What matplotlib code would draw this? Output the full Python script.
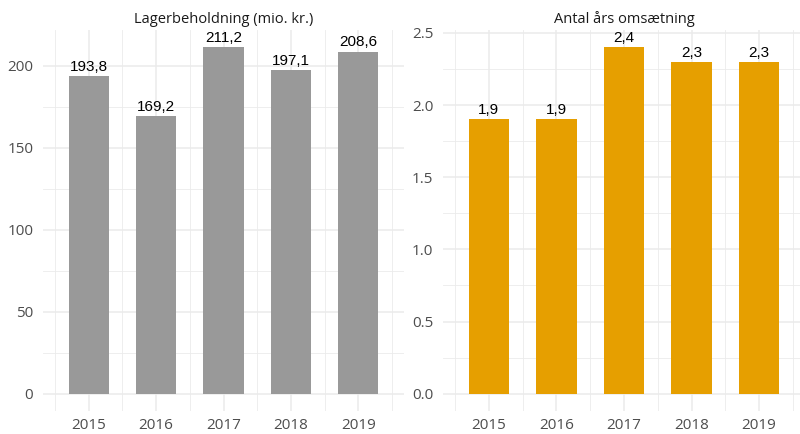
import numpy as np
import matplotlib
matplotlib.use('Agg')
import matplotlib.pyplot as plt
from matplotlib.ticker import MultipleLocator

years = [2015, 2016, 2017, 2018, 2019]
lager = [193.8, 169.2, 211.2, 197.1, 208.6]
omsaetning = [1.9, 1.9, 2.4, 2.3, 2.3]
lager_labels = ['193,8', '169,2', '211,2', '197,1', '208,6']
oms_labels = ['1,9', '1,9', '2,4', '2,3', '2,3']

W, H = 800, 434
fig = plt.figure(figsize=(W / 100, H / 100), dpi=100)

def px_axes(x0, y0, x1, y1):
    return fig.add_axes([x0 / W, 1 - y1 / H, (x1 - x0) / W, (y1 - y0) / H])

ax1 = px_axes(43, 30, 404, 411)
ax2 = px_axes(443, 30, 805, 411)

grid_col = '#EBEBEB'
tick_col = '#4D4D4D'

def style(ax, title, ymax, major, minor, fmt):
    ax.set_facecolor('white')
    for s in ax.spines.values():
        s.set_visible(False)
    ax.set_xlim(2014.32, 2019.68)
    ax.set_ylim(-0.05 * ymax, ymax * 1.05)
    ax.set_xticks(years)
    ax.xaxis.set_minor_locator(MultipleLocator(1, offset=0.5))
    ax.yaxis.set_major_locator(MultipleLocator(major))
    ax.yaxis.set_minor_locator(MultipleLocator(minor))
    ax.yaxis.set_major_formatter(fmt)
    ax.grid(True, which='major', color=grid_col, linewidth=1.1)
    ax.grid(True, which='minor', color=grid_col, linewidth=0.6)
    ax.set_axisbelow(True)
    ax.tick_params(which='both', length=0)
    ax.tick_params(axis='y', pad=7, labelsize=11, labelcolor=tick_col)
    ax.tick_params(axis='x', pad=5, labelsize=11, labelcolor=tick_col)
    for lab in ax.get_xticklabels() + ax.get_yticklabels():
        lab.set_family('Open Sans')
    ax.set_title(title, fontsize=10.5, family='Open Sans', color='#1A1A1A', pad=5)

ax1.bar(years, lager, width=0.6, color='#999999')
ax2.bar(years, omsaetning, width=0.6, color='#E69F00')

style(ax1, 'Lagerbeholdning (mio. kr.)', max(lager), 50, 25, '{x:.0f}')
style(ax2, 'Antal års omsætning', max(omsaetning), 0.5, 0.25, '{x:.1f}')

for x, v, t in zip(years, lager, lager_labels):
    ax1.annotate(t, (x, v), xytext=(0, 1.5), textcoords='offset points',
                 ha='center', va='bottom', fontsize=11, family='Liberation Sans')
for x, v, t in zip(years, omsaetning, oms_labels):
    ax2.annotate(t, (x, v), xytext=(0, 1.5), textcoords='offset points',
                 ha='center', va='bottom', fontsize=11, family='Liberation Sans')

fig.savefig('out.png', dpi=100)
